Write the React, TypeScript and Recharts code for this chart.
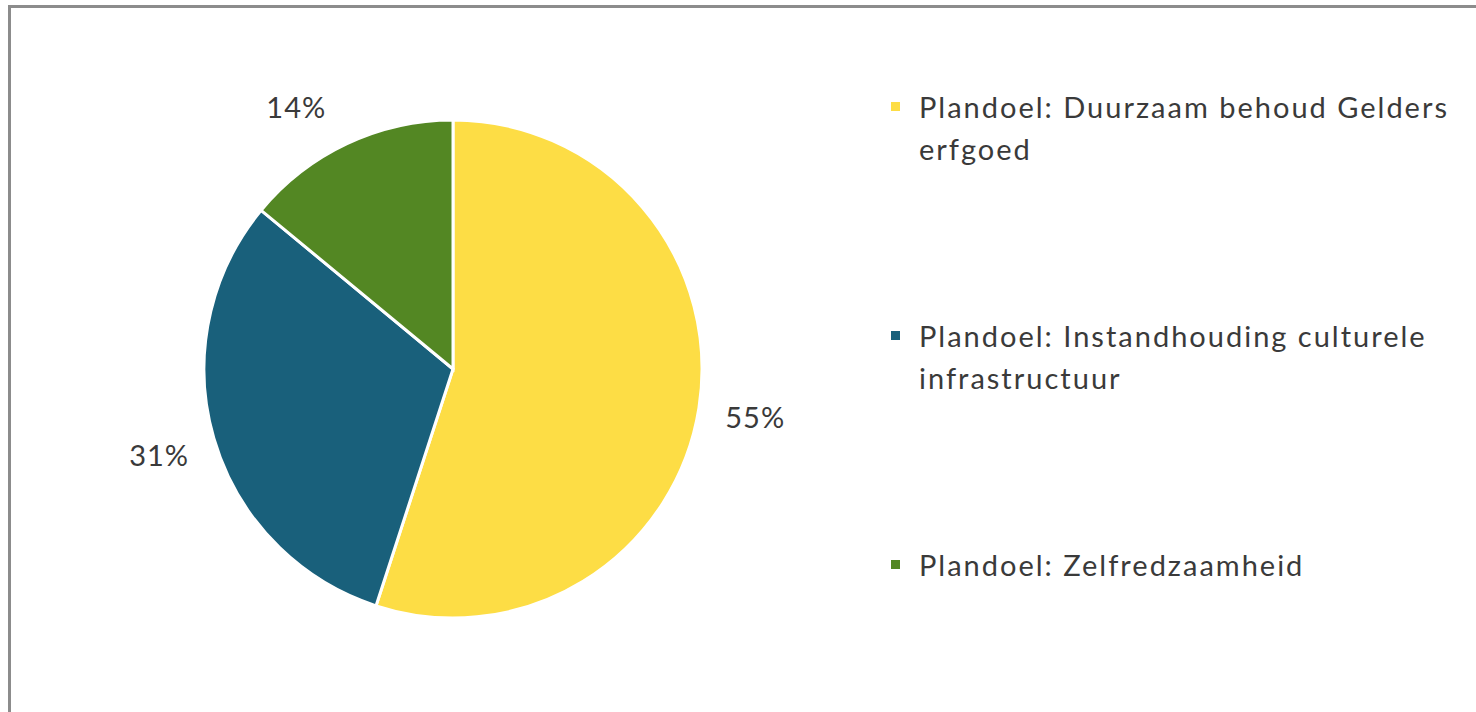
import { PieChart, Pie, Cell, Legend } from 'recharts';

const GOALS = [
  'Plandoel: Duurzaam behoud Gelders erfgoed',
  'Plandoel: Instandhouding culturele infrastructuur',
  'Plandoel: Zelfredzaamheid',
];
const SHARES = [55, 31, 14];
const GOAL_COLORS = ['#fddd45', '#19607b', '#538723'];

const RAD = Math.PI / 180;
const TEXT = '#3a3a3a';
const FONT = 'Lato, "Open Sans", sans-serif';
// Excel's "best fit" nudges the small slice's label a little sideways
const LABEL_ANGLE_SHIFT = [0, 0, 5.6];

const chartData = GOALS.map((name, i) => ({ name, value: SHARES[i] }));

const renderLabel = ({ cx, cy, midAngle, outerRadius, percent, index }: any) => {
  const r = outerRadius + 57;
  const a = (midAngle + (LABEL_ANGLE_SHIFT[index] || 0)) * RAD;
  const x = cx + r * Math.cos(-a);
  const y = cy + r * Math.sin(-a);
  return (
    <text
      x={x}
      y={y}
      fill={TEXT}
      fontSize={29}
      letterSpacing={1}
      fontFamily={FONT}
      textAnchor="middle"
      dominantBaseline="central"
    >
      {Math.round(percent * 100)}%
    </text>
  );
};

const LEGEND_TOPS = [0, 229, 458];

const renderLegend = ({ payload }: any) => (
  <div style={{ position: 'relative', width: 580, height: 520, fontFamily: FONT }}>
    {(payload || []).map((item: any, i: number) => (
      <div key={i} style={{ position: 'absolute', left: 0, top: LEGEND_TOPS[i], display: 'flex', alignItems: 'flex-start' }}>
        <span style={{ width: 9, height: 9, background: item.color, marginTop: 16, marginRight: 19, flex: 'none' }} />
        <span style={{ fontSize: 29, lineHeight: '42px', letterSpacing: 2, color: TEXT, width: 550 }}>{item.value}</span>
      </div>
    ))}
  </div>
);

export default function App() {
  return (
    <div
      style={{
        position: 'absolute',
        left: 8,
        top: 5,
        width: 1468,
        height: 707,
        borderTop: '3px solid #8c8c8c',
        borderLeft: '3px solid #8c8c8c',
        background: '#fff',
      }}
    >
      <PieChart width={1465} height={704}>
        <Pie
          data={chartData}
          dataKey="value"
          cx={437}
          cy={356}
          outerRadius={249}
          startAngle={90}
          endAngle={-270}
          stroke="#fff"
          strokeWidth={3}
          label={renderLabel}
          labelLine={false}
          isAnimationActive={false}
        >
          {chartData.map((_, i) => (
            <Cell key={i} fill={GOAL_COLORS[i]} />
          ))}
        </Pie>
        <Legend
          content={renderLegend}
          wrapperStyle={{ position: 'absolute', left: 880, top: 78, width: 580 }}
        />
      </PieChart>
    </div>
  );
}
